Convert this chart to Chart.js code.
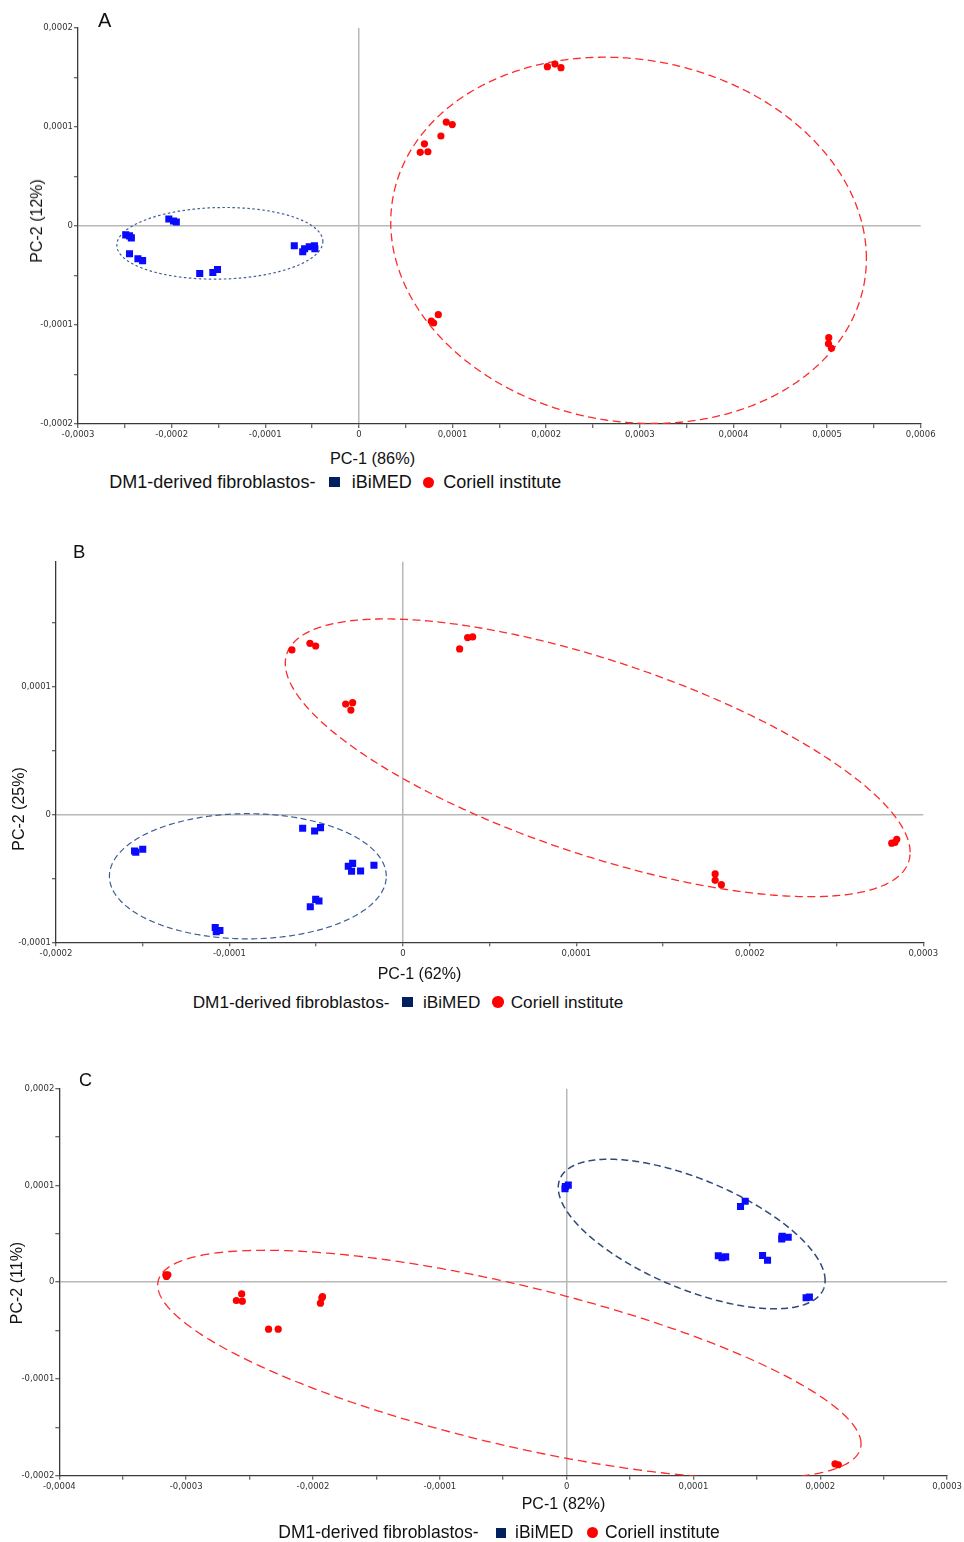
<!DOCTYPE html>
<html>
<head>
<meta charset="utf-8">
<script src="https://cdn.jsdelivr.net/npm/chart.js@4.4.1/dist/chart.umd.min.js"></script>
<style>
  body { margin: 0; background: #fff; }
  #page { position: relative; width: 964px; height: 1542px; overflow: hidden; font-family: "Liberation Sans", Arial, sans-serif; color: #111; }
  canvas { position: absolute; left: 0; }
  .txt { position: absolute; white-space: nowrap; line-height: 1; }
  .ytitle { position: absolute; white-space: nowrap; line-height: 1; font-size: 16px; transform: translate(-50%, -50%) rotate(-90deg); }
  .sq { position: absolute; background: #002060; }
  .dot { position: absolute; background: #ff0000; border-radius: 50%; }
</style>
</head>
<body>
<div id="page">
  <canvas id="chartA" width="964" height="445" style="top:0px"></canvas>
  <canvas id="chartB" width="964" height="445" style="top:530px"></canvas>
  <canvas id="chartC" width="964" height="445" style="top:1060px"></canvas>

  <div class="txt" style="left:98px;top:9.5px;font-size:20px">A</div>
  <div class="ytitle" style="left:36.5px;top:221px">PC-2 (12%)</div>
  <div class="txt" style="left:330px;top:449.5px;font-size:16.3px">PC-1 (86%)</div>
  <div class="txt" style="left:109.3px;top:472.7px;font-size:18px">DM1-derived fibroblastos-</div>
  <div class="sq" style="left:329.3px;top:477px;width:11px;height:10px"></div>
  <div class="txt" style="left:351.7px;top:472.7px;font-size:18px">iBiMED</div>
  <div class="dot" style="left:422.7px;top:476.5px;width:11px;height:11px"></div>
  <div class="txt" style="left:443.3px;top:472.7px;font-size:18px">Coriell institute</div>

  <div class="txt" style="left:73px;top:542.7px;font-size:18.5px">B</div>
  <div class="ytitle" style="left:18.5px;top:809px">PC-2 (25%)</div>
  <div class="txt" style="left:377.7px;top:965.6px;font-size:16px">PC-1 (62%)</div>
  <div class="txt" style="left:192.7px;top:993.8px;font-size:17.2px">DM1-derived fibroblastos-</div>
  <div class="sq" style="left:401.7px;top:996.7px;width:11px;height:10px"></div>
  <div class="txt" style="left:423px;top:993.8px;font-size:17.2px">iBiMED</div>
  <div class="dot" style="left:492px;top:996px;width:11.5px;height:11.5px"></div>
  <div class="txt" style="left:510.7px;top:993.8px;font-size:17.2px">Coriell institute</div>

  <div class="txt" style="left:79px;top:1070.7px;font-size:18px">C</div>
  <div class="ytitle" style="left:17px;top:1282.5px">PC-2 (11%)</div>
  <div class="txt" style="left:521.7px;top:1495.6px;font-size:16px">PC-1 (82%)</div>
  <div class="txt" style="left:278.3px;top:1523.7px;font-size:17.5px">DM1-derived fibroblastos-</div>
  <div class="sq" style="left:496px;top:1528px;width:10px;height:9.5px"></div>
  <div class="txt" style="left:515px;top:1523.7px;font-size:17.5px">iBiMED</div>
  <div class="dot" style="left:586.7px;top:1527px;width:11px;height:11px"></div>
  <div class="txt" style="left:605px;top:1523.7px;font-size:17.5px">Coriell institute</div>
</div>

<script>
// ---- panel A ----
var aIbimedX = [-2.49e-4, -2.45e-4, -2.43e-4, -2.45e-4, -2.36e-4, -2.31e-4, -2.03e-4, -1.98e-4, -1.95e-4,
                -1.70e-4, -1.56e-4, -1.51e-4, -0.69e-4, -0.60e-4, -0.58e-4, -0.53e-4, -0.475e-4, -0.47e-4];
var aIbimedY = [-0.09e-4, -0.10e-4, -0.12e-4, -0.28e-4, -0.33e-4, -0.35e-4, 0.07e-4, 0.05e-4, 0.04e-4,
                -0.48e-4, -0.47e-4, -0.44e-4, -0.20e-4, -0.26e-4, -0.23e-4, -0.21e-4, -0.20e-4, -0.23e-4];
var aCoriellX = [0.655e-4, 0.70e-4, 0.737e-4, 0.876e-4, 0.933e-4, 0.997e-4, 0.773e-4, 0.798e-4, 0.848e-4,
                 2.013e-4, 2.094e-4, 2.158e-4, 5.018e-4, 5.015e-4, 5.047e-4];
var aCoriellY = [0.744e-4, 0.83e-4, 0.75e-4, 0.909e-4, 1.05e-4, 1.024e-4, -0.96e-4, -0.98e-4, -0.896e-4,
                 1.609e-4, 1.636e-4, 1.599e-4, -1.128e-4, -1.19e-4, -1.236e-4];
var aTicksX = [-3e-4, -2.5e-4, -2e-4, -1.5e-4, -1e-4, -0.5e-4, 0, 0.5e-4, 1e-4, 1.5e-4, 2e-4, 2.5e-4,
               3e-4, 3.5e-4, 4e-4, 4.5e-4, 5e-4, 5.5e-4, 6e-4];
var aTicksY = [-2e-4, -1.5e-4, -1e-4, -0.5e-4, 0, 0.5e-4, 1e-4, 1.5e-4, 2e-4];
// ellipses: centre x, centre y, half width, half height, tilt
var aIbimedEllipse = [-1.485e-4, -0.175e-4, 1.10e-4, 0.362e-4, 0.05];
var aCoriellEllipse = [2.88e-4, -0.145e-4, 2.54e-4, 1.85e-4, -0.1];

// ---- panel B ----
var bIbimedX = [-1.547e-4, -1.54e-4, -1.50e-4, -0.578e-4, -0.509e-4, -0.475e-4, -0.315e-4, -0.29e-4, -0.296e-4,
                -0.244e-4, -0.167e-4, -0.534e-4, -0.503e-4, -0.484e-4, -1.082e-4, -1.076e-4, -1.055e-4];
var bIbimedY = [-0.285e-4, -0.295e-4, -0.272e-4, -0.107e-4, -0.128e-4, -0.102e-4, -0.405e-4, -0.382e-4, -0.444e-4,
                -0.442e-4, -0.397e-4, -0.722e-4, -0.664e-4, -0.677e-4, -0.884e-4, -0.918e-4, -0.907e-4];
var bCoriellX = [-0.640e-4, -0.536e-4, -0.503e-4, -0.330e-4, -0.290e-4, -0.300e-4, 0.327e-4, 0.373e-4, 0.402e-4,
                 1.80e-4, 1.80e-4, 1.836e-4, 2.818e-4, 2.837e-4, 2.847e-4];
var bCoriellY = [1.289e-4, 1.341e-4, 1.320e-4, 0.865e-4, 0.876e-4, 0.818e-4, 1.297e-4, 1.386e-4, 1.391e-4,
                 -0.465e-4, -0.515e-4, -0.549e-4, -0.224e-4, -0.217e-4, -0.193e-4];
var bTicksX = [-2e-4, -1.5e-4, -1e-4, -0.5e-4, 0, 0.5e-4, 1e-4, 1.5e-4, 2e-4, 2.5e-4, 3e-4];
var bTicksY = [-1e-4, -0.5e-4, 0, 0.5e-4, 1e-4, 1.5e-4];
var bIbimedEllipse = [-0.894e-4, -0.483e-4, 0.798e-4, 0.49e-4, 0];
var bCoriellEllipse = [1.123e-4, 0.4445e-4, 1.801e-4, 1.0875e-4, -0.68];

// ---- panel C ----
var cIbimedX = [-0.013e-4, -0.010e-4, 0.013e-4, 1.371e-4, 1.408e-4, 1.699e-4, 1.696e-4, 1.747e-4, 1.196e-4,
                1.225e-4, 1.254e-4, 1.545e-4, 1.584e-4, 1.888e-4, 1.914e-4];
var cIbimedY = [0.965e-4, 0.99e-4, 1.003e-4, 0.782e-4, 0.837e-4, 0.475e-4, 0.448e-4, 0.465e-4, 0.273e-4,
                0.252e-4, 0.262e-4, 0.276e-4, 0.227e-4, -0.161e-4, -0.154e-4];
var cCoriellX = [-3.160e-4, -3.144e-4, -3.155e-4, -2.604e-4, -2.557e-4, -2.562e-4, -2.350e-4, -2.274e-4,
                 -1.930e-4, -1.941e-4, -1.925e-4, 2.116e-4, 2.142e-4];
var cCoriellY = [0.076e-4, 0.076e-4, 0.059e-4, -0.189e-4, -0.196e-4, -0.121e-4, -0.486e-4, -0.486e-4,
                 -0.162e-4, -0.217e-4, -0.150e-4, -1.877e-4, -1.887e-4];
var cTicksX = [-4e-4, -3.5e-4, -3e-4, -2.5e-4, -2e-4, -1.5e-4, -1e-4, -0.5e-4, 0, 0.5e-4, 1e-4, 1.5e-4,
               2e-4, 2.5e-4, 3e-4];
var cTicksY = [-2e-4, -1.5e-4, -1e-4, -0.5e-4, 0, 0.5e-4, 1e-4, 1.5e-4, 2e-4];
var cIbimedEllipse = [0.986e-4, 0.498e-4, 1.052e-4, 0.773e-4, -0.621];
var cCoriellEllipse = [-0.4515e-4, -0.85e-4, 2.7725e-4, 1.18e-4, -0.695];

var blue = '#0a0aff';
var red = '#ff0000';

function pts(xs, ys) {
    return xs.map(function (v, i) { return { x: v, y: ys[i] }; });
}

function tickLabel(v) {
    var k = v / 1e-4;
    if (Math.abs(k - Math.round(k)) > 1e-6) return '';
    if (Math.round(k) === 0) return '0';
    return (Math.round(k) * 1e-4).toFixed(4).replace('.', ',');
}

function ellipsePlugin(list) {
    return {
        id: 'ellipses',
        beforeDatasetsDraw: function (chart) {
            var ctx = chart.ctx, area = chart.chartArea;
            var sx = chart.scales.x, sy = chart.scales.y;
            ctx.save();
            ctx.beginPath();
            ctx.rect(area.left, area.top, area.right - area.left, area.bottom - area.top);
            ctx.clip();
            list.forEach(function (e) {
                var p = e.params, phi = Math.asin(p[4]);
                ctx.beginPath();
                for (var i = 0; i <= 720; i++) {
                    var t = i * Math.PI / 360;
                    var px = sx.getPixelForValue(p[0] + p[2] * Math.cos(t));
                    var py = sy.getPixelForValue(p[1] + p[3] * Math.sin(t + phi));
                    if (i === 0) ctx.moveTo(px, py); else ctx.lineTo(px, py);
                }
                ctx.setLineDash(e.dash);
                ctx.lineWidth = e.width;
                ctx.strokeStyle = e.color;
                ctx.stroke();
            });
            ctx.restore();
        }
    };
}

function makeAxis(ticksList, min, max, fitFn) {
    return {
        type: 'linear',
        min: min,
        max: max,
        afterBuildTicks: function (s) { s.ticks = ticksList.map(function (v) { return { value: v }; }); },
        afterFit: fitFn,
        border: { display: true, color: '#3a3a3a', width: 1.3 },
        grid: {
            drawOnChartArea: true,
            color: function (c) { return c.tick && c.tick.value === 0 ? '#b8b8b8' : 'rgba(0,0,0,0)'; },
            lineWidth: 1.5,
            tickLength: 4,
            tickColor: '#3a3a3a',
            tickWidth: 1
        },
        ticks: {
            autoSkip: false,
            maxRotation: 0,
            padding: 2,
            color: '#333',
            font: { family: 'DejaVu Sans', size: 8.5 },
            callback: tickLabel
        }
    };
}

function makePanel(id, p) {
    new Chart(document.getElementById(id), {
        type: 'scatter',
        data: {
            datasets: [
                { label: 'iBiMED', data: pts(p.bx, p.by), pointStyle: 'rect', pointRadius: 5,
                  backgroundColor: blue, borderWidth: 0 },
                { label: 'Coriell institute', data: pts(p.rx, p.ry), pointStyle: 'circle', pointRadius: 3.6,
                  backgroundColor: red, borderWidth: 0 }
            ]
        },
        options: {
            responsive: false,
            animation: false,
            layout: { padding: p.pad },
            plugins: { legend: { display: false }, tooltip: { enabled: false } },
            scales: {
                x: makeAxis(p.tx, p.xmin, p.xmax, function (s) { s.height = 20; }),
                y: Object.assign(makeAxis(p.ty, p.ymin, p.ymax, function (s) { s.width = p.yw; }),
                                 { ticks: Object.assign(makeAxis(p.ty).ticks, { padding: 1 }) })
            }
        },
        plugins: [ellipsePlugin(p.ellipses)]
    });
}

makePanel('chartA', {
    bx: aIbimedX, by: aIbimedY, rx: aCoriellX, ry: aCoriellY, tx: aTicksX, ty: aTicksY,
    xmin: -3e-4, xmax: 6e-4, ymin: -2e-4, ymax: 2e-4, yw: 78,
    pad: { left: 0, top: 28, right: 43.3, bottom: 1 },
    ellipses: [
        { params: aIbimedEllipse, color: '#3e5f94', dash: [2.5, 2.5], width: 1.2 },
        { params: aCoriellEllipse, color: '#ff2a2a', dash: [8, 4.5], width: 1.3 }
    ]
});

makePanel('chartB', {
    bx: bIbimedX, by: bIbimedY, rx: bCoriellX, ry: bCoriellY, tx: bTicksX, ty: bTicksY,
    xmin: -2e-4, xmax: 3e-4, ymin: -1e-4, ymax: 1.98e-4, yw: 56,
    pad: { left: 0, top: 31.7, right: 40.7, bottom: 12.7 },
    ellipses: [
        { params: bIbimedEllipse, color: '#3e5f94', dash: [6, 3.5], width: 1.2 },
        { params: bCoriellEllipse, color: '#ff2a2a', dash: [8, 4.5], width: 1.3 }
    ]
});

makePanel('chartC', {
    bx: cIbimedX, by: cIbimedY, rx: cCoriellX, ry: cCoriellY, tx: cTicksX, ty: cTicksY,
    xmin: -4e-4, xmax: 3e-4, ymin: -2e-4, ymax: 2e-4, yw: 59.3,
    pad: { left: 0, top: 28.7, right: 16, bottom: 9.3 },
    ellipses: [
        { params: cIbimedEllipse, color: '#2f4a7a', dash: [7, 4], width: 1.5 },
        { params: cCoriellEllipse, color: '#ff2a2a', dash: [9, 5], width: 1.3 }
    ]
});
</script>
</body>
</html>
